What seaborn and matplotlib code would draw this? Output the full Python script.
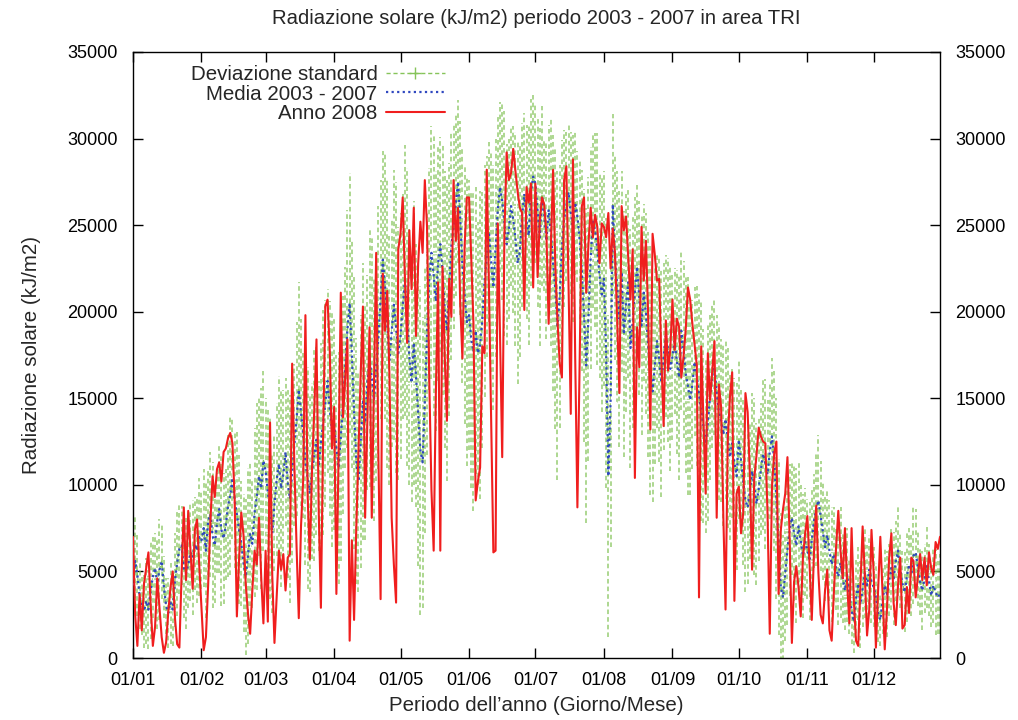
import numpy as np
import pandas as pd
import matplotlib
matplotlib.use("Agg")
import matplotlib.pyplot as plt
from matplotlib.lines import Line2D
import seaborn as sns

# mean 2003-2007, daily (kJ/m2)
media = [
    # gen
    4200, 5600, 4800, 3600, 3000, 2700, 3300, 2800, 3900, 4700, 5200, 4300, 5100, 5600, 4100, 3000,
    2600, 3200, 2800, 4500, 5500, 6300, 6500, 5200, 4900, 5400, 6100, 5800, 6600, 6200, 7000,
    # feb
    6800, 7500, 6200, 7900, 8300, 7100, 6500, 7800, 8600, 7400, 6900, 7700, 8800, 9400, 10400,
    9100, 8300, 7400, 6600, 5500, 4700, 5900, 7200, 6600, 8400, 9300, 10500, 9800, 11400,
    # mar
    10800, 9600, 8700, 7200, 8900, 10300, 11200, 9800, 10600, 11900, 10100, 9200, 10700, 12300,
    13800, 15500, 14200, 12900, 11300, 10400, 9500, 10800, 11700, 12600, 11100, 12400, 13600,
    14700, 16000, 14400, 13200,
    # apr
    13500, 12100, 11000, 12800, 14600, 16800, 19000, 20500, 17600, 14200, 11400, 10200, 12500,
    14800, 13600, 15900, 17300, 16200, 14900, 16700, 18500, 20700, 23000, 21500, 19300, 17200,
    18800, 20400, 19100, 17600,
    # mag
    18600, 20300, 21800, 19700, 17400, 15900, 18200, 16300, 14100, 12000, 11300, 14900, 18700,
    21900, 23400, 22100, 20600, 22800, 23900, 22400, 20100, 18900, 21300, 23800, 24900, 26200,
    27500, 25400, 22700, 21000, 19400,
    # giu
    19800, 18400, 17700, 18900, 17600, 18100, 19500, 21800, 23200, 24600, 22900, 21400, 23700,
    25900, 27200, 26400, 25100, 23900, 24800, 26100, 25300, 24200, 22800, 23500, 25600, 26800,
    25200, 24400, 26900, 27800,
    # lug
    27400, 25800, 24300, 26700, 25600, 24100, 25900, 24600, 22800, 21300, 19200, 20900, 23700,
    25400, 26100, 26900, 25700, 24800, 26300, 25500, 24200, 22400, 19800, 16900, 19600, 23100,
    25200, 24700, 23600, 22100, 21000,
    # ago
    21900, 17600, 10500, 14800, 26200, 23100, 21400, 19600, 22300, 18700, 20500, 21700, 17900,
    19400, 21200, 22600, 20800, 19200, 21100, 19900, 18100, 16600, 15400, 16900, 18300, 17200,
    15900, 17400, 18600, 17800, 16700,
    # set
    17400, 18300, 17100, 16200, 18900, 17800, 16400, 15700, 14900, 15800, 17100, 16300, 15200,
    14300, 13400, 12200, 13600, 15100, 16300, 16800, 15300, 14200, 13700, 12900, 13800, 12700,
    11600, 12400, 11300, 10500,
    # ott
    12600, 11400, 10200, 9100, 8700, 9600, 10800, 9900, 8900, 9800, 10900, 11800, 11200, 10600,
    11900, 12800, 11400, 9200, 6400, 4100, 3500, 4900, 6300, 7400, 8100, 7200, 6500, 7600, 6800,
    5900, 6700,
    # nov
    6300, 5600, 6800, 7900, 8600, 9100, 8200, 7300, 6400, 7100, 6200, 5400, 6000, 5200, 4700,
    5500, 4600, 3900, 4800, 3600, 2800, 2100, 3400, 4300, 3100, 4000, 4900, 4200, 5100, 4400,
    # dic
    4100, 3500, 2600, 2200, 3300, 4200, 3700, 4500, 5200, 4600, 5600, 6200, 5100, 4300, 3800,
    4700, 5400, 4800, 5900, 6100, 5200, 4400, 3900, 4600, 5300, 4500, 3600, 4200, 3800, 3500, 3700,
]

# standard deviation 2003-2007, daily
deviazione = [
    2200, 2600, 2400, 1900, 1700, 2100, 2500, 2300, 2800, 2400, 2000, 2600, 2900, 2200, 1800, 1600,
    2000, 2400, 2100, 2700, 3100, 2600, 2300, 2900, 3200, 2500, 2800, 3300, 2700, 3000, 3400,
    2800, 3400, 3900, 3100, 3600, 4200, 3300, 2900, 3700, 4400, 3800, 3200, 4100, 4600, 3500,
    3900, 4800, 4300, 3600, 4000, 4500, 5100, 4200, 3700, 4900, 5400, 4600, 5800, 5200,
    4200, 4800, 5300, 4600, 3900, 4400, 5100, 5700, 4900, 4300, 5500, 6000, 5200, 4700, 5600,
    6200, 5400, 4800, 5900, 6400, 5700, 5100, 6100, 5500, 4900, 5800, 6500, 6000, 5300, 6200, 6800,
    6100, 5400, 6700, 7200, 6300, 5800, 6900, 7500, 6600, 7900, 7100, 6400, 7300, 8000, 6800,
    6200, 7400, 8100, 7000, 6500, 7600, 6900, 6300, 7700, 8300, 7200, 6600, 7800, 8400, 7300,
    7100, 6500, 7800, 8600, 7400, 6900, 8200, 7600, 8800, 9500, 8400, 7700, 7000, 6400, 7300,
    8100, 7500, 6800, 6200, 7200, 8000, 8700, 7300, 6600, 5900, 5300, 4700, 5600, 6800, 7500, 8300,
    7800, 8600, 9200, 8300, 7600, 8900, 7400, 6700, 5800, 5200, 6400, 7100, 6300, 5500, 4900,
    5700, 6500, 5800, 5200, 4600, 5400, 6200, 7000, 6100, 5300, 4700, 5600, 6300, 5400, 4800,
    4600, 5500, 6300, 5200, 4400, 5700, 4900, 6600, 7400, 8100, 8900, 7600, 6200, 5100, 4300,
    3900, 4700, 5400, 4200, 3800, 4600, 5800, 7300, 9100, 8200, 6400, 5000, 5600, 6700, 5900, 6800,
    6200, 7800, 9300, 8400, 5200, 5900, 6700, 7400, 5800, 7100, 6300, 5500, 6900, 6100, 5400,
    4800, 5600, 6300, 5100, 5800, 6500, 7200, 6400, 5700, 5000, 5900, 6600, 5400, 4700, 5300, 5900,
    4800, 4200, 5300, 5900, 4600, 5100, 5700, 6300, 5500, 4900, 4300, 5200, 5800, 6400, 5600,
    5000, 5700, 4800, 4200, 3900, 4500, 5100, 4700, 5300, 4600, 5200, 4800, 4300, 4900, 5400,
    4600, 4100, 4800, 5300, 4400, 3900, 4500, 5100, 4700, 4200, 3800, 4400, 4900, 4300, 3900,
    4500, 5200, 5800, 5100, 4300, 3600, 3900, 4400, 3800, 3300, 3900, 4500, 3700, 3200, 3600, 3100,
    2900, 3400, 3100, 2700, 3300, 3800, 3200, 2800, 3100, 2600, 2900, 3300, 2700, 2400, 2800,
    3200, 2600, 2300, 2700, 2200, 2000, 1800, 2400, 2100, 2500, 2200, 2600, 2300, 2000, 2400,
    2300, 2000, 1700, 1500, 1900, 2200, 2500, 2100, 2400, 2700, 2300, 2600, 2200, 1900, 2300,
    2600, 2100, 2400, 2800, 2500, 2200, 1900, 2300, 2000, 2400, 2100, 1800, 2200, 2500, 2100, 2300,
]

# year 2008, daily
anno_2008 = [
    7000, 2500, 700, 3700, 1600, 4300, 5200, 6100, 3100, 700, 1800, 4600, 2900, 1200, 300, 900,
    2700, 4100, 5000, 2300, 800, 600, 4800, 8700, 4500, 8500, 6200, 4000, 7400, 8000, 5300,
    2900, 450, 1200, 4200, 7800, 10500, 9300, 10900, 11300, 10200, 11900, 12100, 12700, 13000,
    12400, 9100, 2400, 5700, 8400, 7100, 4300, 2600, 1400, 3900, 6200, 5400, 8100, 4700, 2000,
    6200, 2100, 13600, 4800, 870, 3600, 6200, 5100, 6000, 3900, 5800, 6000, 17000, 11200, 6400,
    2300, 7600, 10300, 19800, 9400, 5700, 11000, 14300, 18400, 8600, 2900, 12700, 20300, 20700,
    17800, 12100,
    14500, 3700, 11800, 21100, 13900, 16200, 18400, 1000, 6800, 2200, 7500, 12000, 16400, 20300,
    8100, 13600, 19100, 8100, 15800, 23400, 11700, 3400, 22200, 18900, 21200, 16300, 8100, 5400,
    3200, 23600,
    24500, 26600, 21900, 18200, 24700, 21300, 26000, 18600, 22800, 25200, 23400, 27600, 24900,
    16100, 9700, 6200, 15400, 21700, 6200, 22600, 17400, 13700, 21900, 19700, 27600, 24100,
    26000, 20500, 17300, 23800, 26600,
    26600, 23100, 19300, 9100, 10200, 11000, 18000, 17600, 28200, 21400, 13600, 6100, 6200,
    25100, 18700, 11600, 24500, 29200, 27600, 28000, 29400, 28100, 26900, 26000, 25700, 20100,
    27200, 26300, 27400, 21400,
    27400, 22000, 25300, 26600, 26200, 24500, 19300, 23800, 28200, 22700, 19500, 17000, 16200,
    27600, 28400, 21500, 14100, 28800, 17400, 8700, 16900, 26100, 26600, 21100, 23900, 26000,
    24300, 25600, 24900, 22800, 25100,
    24900, 24300, 25700, 22500, 24800, 23400, 19500, 15300, 26100, 24700, 25500, 23100, 20700,
    23600, 10400, 19100, 16800, 24900, 21800, 24100, 19800, 13200, 24500, 23300, 21800, 21900,
    17200, 13400, 19500, 16600, 17800,
    20700, 17800, 19600, 19100, 16200, 17400, 19000, 21400, 20700, 19300, 18100, 16900, 3500,
    18000, 13800, 9500, 17600, 14900, 16600, 18300, 8100, 15800, 14500, 8200, 2800, 12600,
    15100, 16500, 3300, 9500,
    9900, 7200, 8400, 15300, 14200, 10600, 5100, 10400, 11700, 13300, 12800, 12500, 12400, 8300,
    1400, 9900, 11800, 12500, 3700, 7400, 8600, 9500, 11600, 6800, 870, 4400, 5300, 4100, 2400,
    5800, 7200,
    8200, 5400, 2200, 6100, 8800, 4900, 2500, 2000, 3900, 5100, 1600, 1000, 3800, 6400, 8500,
    6200, 4600, 7500, 4300, 2000, 7500, 3400, 1000, 700, 4100, 7600, 4800, 1300, 2800, 7400,
    4900, 600, 3900, 7000, 3700, 500, 2800, 5800, 7200, 3200, 1900, 4200, 5800, 1700, 1900,
    4100, 2600, 5800, 5600, 3500, 4700, 6000, 4500, 5800, 4200, 6100, 5200, 4800, 6700, 6300, 7000,
]

mesi = ["01/01", "01/02", "01/03", "01/04", "01/05", "01/06",
        "01/07", "01/08", "01/09", "01/10", "01/11", "01/12"]
inizio_mese = [1, 32, 61, 92, 122, 153, 183, 214, 245, 275, 306, 336]

df = pd.DataFrame({"giorno": np.arange(1, len(media) + 1),
                   "media": media, "dev": deviazione, "anno": anno_2008})

sns.set_theme(style="ticks")
plt.rcParams["font.family"] = ["Liberation Sans", "DejaVu Sans"]

verde = "#86c45a"
blu = "#2f48c0"
rosso = "#f01e1e"

fig = plt.figure(figsize=(10.18, 7.2), dpi=100)
ax = fig.add_axes([0.1306, 0.0861, 0.7928, 0.8417])

# standard deviation bars + line
eb = ax.errorbar(df["giorno"], df["media"], yerr=df["dev"], fmt="none",
                 ecolor=verde, elinewidth=1.1, alpha=0.85, zorder=1)
eb[2][0].set_linestyle((0, (3, 2)))
sns.lineplot(data=df, x="giorno", y="media", ax=ax, color=verde, lw=1.0,
             linestyle=(0, (3, 2)), marker="+", markersize=9, markevery=9,
             markeredgewidth=1, zorder=2)
sns.lineplot(data=df, x="giorno", y="media", ax=ax, color=blu, lw=1.6,
             linestyle=(0, (1, 1.5)), zorder=3)
sns.lineplot(data=df, x="giorno", y="anno", ax=ax, color=rosso, lw=1.5, zorder=4)

ax.set_xlim(1, 366)
ax.set_ylim(0, 35000)
ax.set_xticks(inizio_mese)
ax.set_xticklabels(mesi)
ax.set_yticks(np.arange(0, 35001, 5000))
ax.tick_params(direction="in", top=True, right=True, labelright=True,
               length=7, width=1, labelsize=13, colors="black")
ax.tick_params(axis="x", pad=10)
ax.tick_params(axis="y", pad=11)
for s in ax.spines.values():
    s.set_color("black")
    s.set_linewidth(1)

ax.set_title("Radiazione solare (kJ/m2) periodo 2003 - 2007 in area TRI",
             fontsize=14.6, pad=20)
ax.set_xlabel("Periodo dell\u2019anno (Giorno/Mese)", fontsize=14.8, labelpad=5)
ax.set_ylabel("Radiazione solare (kJ/m2)", fontsize=14.8, labelpad=19)

handles = [
    Line2D([0, 0.5, 1], [0, 0, 0], color=verde, lw=1.0, linestyle=(0, (3, 2)),
           marker="+", markersize=9, markevery=[1], markeredgewidth=1),
    Line2D([], [], color=blu, lw=1.6, linestyle=(0, (1, 1.5))),
    Line2D([], [], color=rosso, lw=1.5),
]
ax.legend(handles, ["Deviazione standard", "Media 2003 - 2007", "Anno 2008"],
          loc="upper right", bbox_to_anchor=(0.392, 0.985), frameon=False,
          markerfirst=False, handlelength=2.9, labelspacing=0.02,
          handletextpad=0.4, fontsize=14.8, borderaxespad=0, borderpad=0.2)

fig.savefig("out.png", dpi=100)
